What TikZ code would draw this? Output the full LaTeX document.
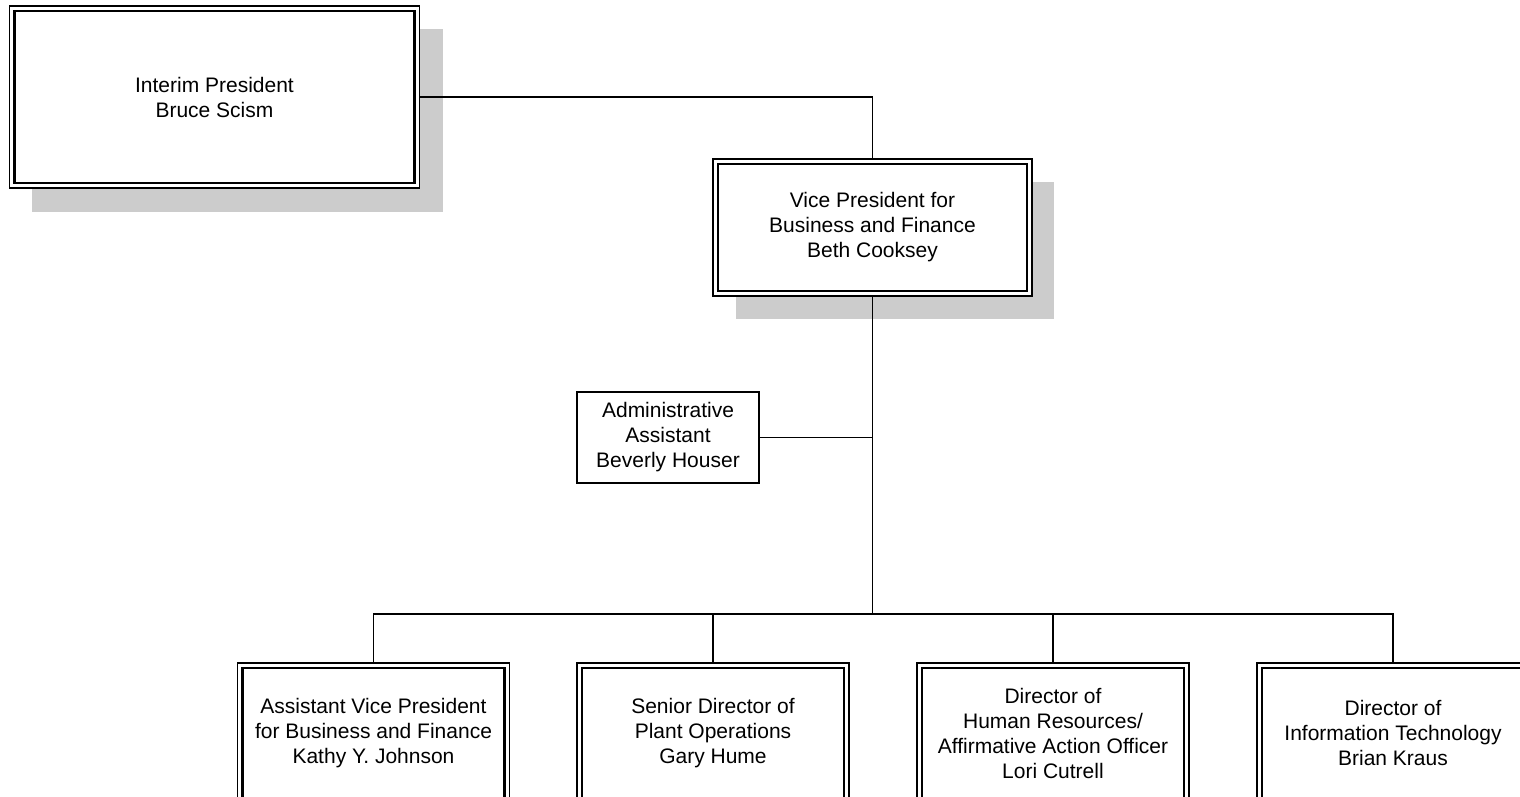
\documentclass[tikz,border=0pt]{standalone}
\usepackage{fontspec}
\setmainfont{Liberation Sans}
\usetikzlibrary{fit}
\begin{document}
\begin{tikzpicture}[x=1pt,y=-1pt,
  every node/.style={outer sep=0pt},
  inbox/.style={draw, line width=2.4pt, fill=white, align=center, inner sep=0pt,
    font=\fontsize{21}{25}\selectfont},
  outbox/.style={draw, line width=1.4pt, inner sep=5pt},
  abox/.style={draw, line width=1.6pt, fill=white, align=center, inner sep=0pt,
    minimum width=182pt, minimum height=91pt, font=\fontsize{21}{25}\selectfont},
  shadowc/.style={fill=black!20, draw=none},
  conn/.style={draw, line width=1.5pt}]
\useasboundingbox (0,0) rectangle (1520,796);
\clip (0,0) rectangle (1520,796);
\fill[white] (0,0) rectangle (1520,796);
% shadows
\path[shadowc] (32,29) rectangle (443,212);
\path[shadowc] (736,182) rectangle (1054,319);
% top box
\node[outbox, fill=white, minimum width=410pt, minimum height=182pt] (p) at (214.5,97) {};
\node[inbox, minimum width=400pt, minimum height=172pt] (pi) at (214.5,97) {Interim President\\Bruce Scism};
% VP
\node[outbox, fill=white, minimum width=319pt, minimum height=137pt] (v) at (872.5,227.5) {};
\node[inbox, minimum width=309pt, minimum height=127pt] (vi) at (872.5,227.5) {Vice President for\\Business and Finance\\Beth Cooksey};
% admin
\node[abox] (a) at (668,437.5) {Administrative\\Assistant\\Beverly Houser};
% bottom boxes
\foreach \n/\x/\t in {b1/373.5/{Assistant Vice President\\for Business and Finance\\Kathy Y. Johnson},
                      b2/713/{Senior Director of\\Plant Operations\\Gary Hume},
                      b3/1053/{Director of\\Human Resources/\\Affirmative Action Officer\\Lori Cutrell},
                      b4/1393/{Director of\\Information Technology\\Brian Kraus}}{
  \node[outbox, fill=white, minimum width=272pt, minimum height=140pt] (\n) at (\x,733) {};
  \node[inbox, minimum width=262pt, minimum height=130pt] (\n i) at (\x,733) {\t};
}
% connectors
\coordinate (j) at (872.5,614);
\draw[conn] (p.east) -| (v.north);
\draw[conn] (v.south) -- (j);
\draw[conn] (a.east) -- (a.east -| j);
\draw[conn] (j) -| (b1.north);
\draw[conn] (j) -| (b2.north);
\draw[conn] (j) -| (b3.north);
\draw[conn] (j) -| (b4.north);
\end{tikzpicture}
\end{document}
